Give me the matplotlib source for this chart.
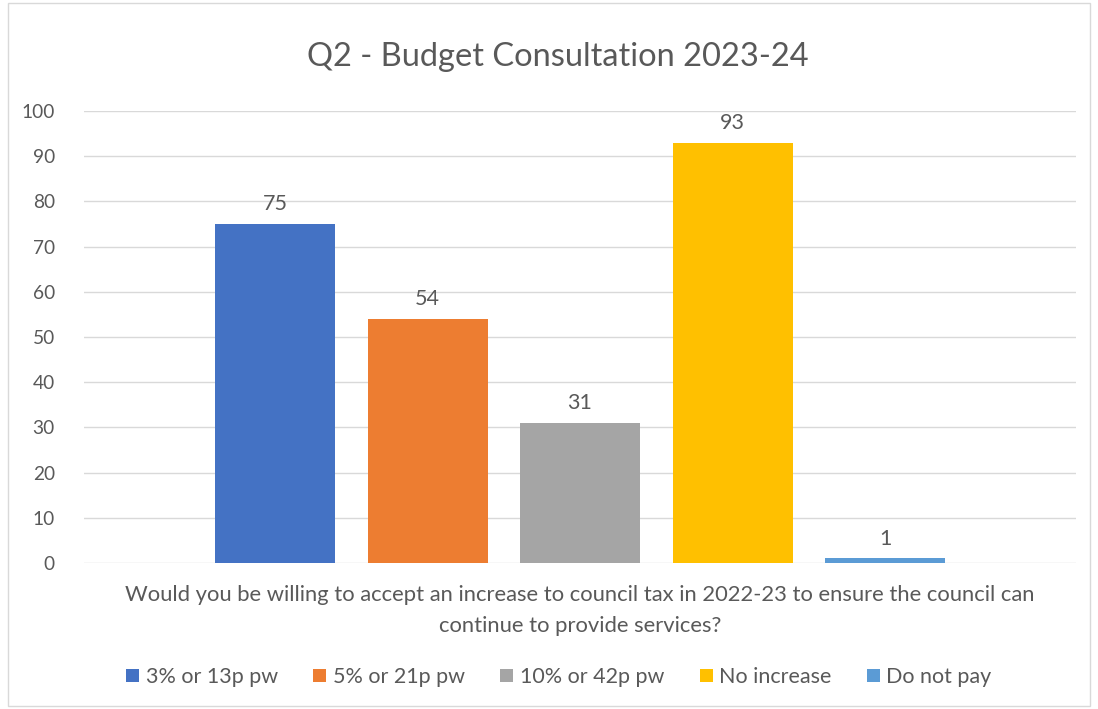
import matplotlib.pyplot as plt
from matplotlib.patches import Rectangle

# data
options = ["3% or 13p pw", "5% or 21p pw", "10% or 42p pw", "No increase", "Do not pay"]
counts = [75, 54, 31, 93, 1]
colours = ["#4472C4", "#ED7D31", "#A5A5A5", "#FFC000", "#5B9BD5"]
question = ("Would you be willing to accept an increase to council tax in 2022-23 to ensure the council can\n"
            "continue to provide services?")

plt.rcParams['font.family'] = ['Lato', 'DejaVu Sans']
grey = "#595959"

fig = plt.figure(figsize=(10.98, 7.09), dpi=100)
ax = fig.add_axes([84/1098, 1-563/709, 992/1098, 452/709])

step = 152.5/992
width = 120/992
for i, (name, val, col) in enumerate(zip(options, counts, colours)):
    x = (i - 2)*step
    ax.bar(x, val, width=width, color=col, label=name, zorder=3)
    ax.annotate(str(val), (x, val), xytext=(0, 7), textcoords="offset points",
                ha="center", va="bottom", fontsize=15.5, color=grey)

ax.set_xlim(-0.5, 0.5)
ax.set_ylim(0, 100)
ax.set_yticks(range(0, 101, 10))
ax.set_xticks([])
ax.grid(axis="y", color="#D9D9D9", linewidth=1, zorder=0)
for s in ax.spines.values():
    s.set_visible(False)
ax.tick_params(axis="y", length=0, labelsize=13.8, labelcolor=grey, pad=21)

ax.set_xlabel(question, fontsize=15.8, color=grey, labelpad=16, linespacing=1.7)
fig.text(558/1098, 1-57/709, "Q2 - Budget Consultation 2023-24", ha="center", va="center",
         fontsize=23.5, color=grey)

fig.legend(loc="center", bbox_to_anchor=(559/1098, 1-677/709), ncol=5, frameon=False,
           fontsize=15.5, labelcolor=grey, handlelength=0.6, handleheight=0.6,
           handletextpad=0.3, columnspacing=1.65)

fig.patches.append(Rectangle((8/1098, 3/709), 1082/1098, 703/709, transform=fig.transFigure,
                             fill=False, edgecolor="#D9D9D9", linewidth=1))

fig.savefig("out.png", dpi=100)
